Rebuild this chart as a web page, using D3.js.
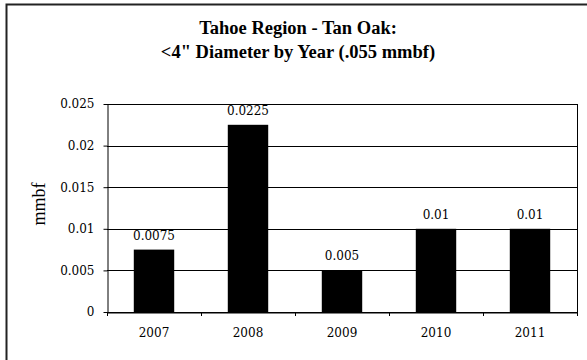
<!DOCTYPE html>
<html>
<head>
<meta charset="utf-8">
<script src="https://cdn.jsdelivr.net/npm/d3@7"></script>
<style>
  body { margin: 0; background: #fff; }
  svg text { font-family: 'Liberation Serif', 'Times New Roman', serif; fill: #000; }
  svg .num { font-family: 'DejaVu Serif', serif; font-size: 12px; }
</style>
</head>
<body>
<div id="chart"></div>
<script>
const years = ['2007', '2008', '2009', '2010', '2011']
const volumes = [0.0075, 0.0225, 0.005, 0.01, 0.01]
const valueLabels = ['0.0075', '0.0225', '0.005', '0.01', '0.01']
const yTicks = [0, 0.005, 0.01, 0.015, 0.02, 0.025]
const titleLines = ['Tahoe Region - Tan Oak:', '<4" Diameter by Year (.055 mmbf)']

const width = 587
const height = 360
const margin = { top: 104, right: 10, bottom: 48, left: 107 }

const svg = d3.select('#chart')
  .append('svg')
  .attr('width', width)
  .attr('height', height)

// outer chart border (right/bottom edges fall outside the picture)
svg.append('rect')
  .attr('x', 6.5)
  .attr('y', 4.5)
  .attr('width', 600)
  .attr('height', 400)
  .attr('fill', '#fff')
  .attr('stroke', '#222')
  .attr('stroke-width', 2)

svg.append('g')
  .selectAll('text')
  .data(titleLines)
  .join('text')
  .attr('x', 298)
  .attr('y', (d, i) => 34 + i * 23.5)
  .attr('text-anchor', 'middle')
  .style('font-weight', 'bold')
  .style('font-size', '18.5px')
  .text(d => d)

const x = d3.scaleBand()
  .domain(years)
  .range([margin.left, width - margin.right])
  .padding(0)

const y = d3.scaleLinear()
  .domain([0, 0.025])
  .range([height - margin.bottom, margin.top])

// gridlines
svg.append('g')
  .selectAll('line')
  .data(yTicks)
  .join('line')
  .attr('x1', margin.left)
  .attr('x2', width - margin.right)
  .attr('y1', d => Math.round(y(d)) + 0.5)
  .attr('y2', d => Math.round(y(d)) + 0.5)
  .attr('stroke', '#000')
  .attr('stroke-width', 1)

// right edge of plot area
svg.append('line')
  .attr('x1', width - margin.right + 0.5)
  .attr('x2', width - margin.right + 0.5)
  .attr('y1', y(0.025))
  .attr('y2', y(0))
  .attr('stroke', '#000')

const barW = x.bandwidth() * 0.43

svg.append('g')
  .selectAll('rect')
  .data(volumes)
  .join('rect')
  .attr('x', (d, i) => x(years[i]) + x.bandwidth() / 2 - barW / 2)
  .attr('y', d => y(d))
  .attr('width', barW)
  .attr('height', d => y(0) - y(d))
  .attr('fill', '#000')

svg.append('g')
  .selectAll('text')
  .data(volumes)
  .join('text')
  .classed('num', true)
  .attr('x', (d, i) => x(years[i]) + x.bandwidth() / 2)
  .attr('y', d => y(d) - 10)
  .attr('text-anchor', 'middle')
  .text((d, i) => valueLabels[i])

// y axis
const yAxis = svg.append('g')
  .attr('transform', `translate(${margin.left + 0.5},0)`)
  .call(d3.axisLeft(y).tickValues(yTicks).tickFormat(d => d === 0 ? '0' : String(+d.toFixed(3))).tickSize(4).tickSizeOuter(0))
yAxis.select('.domain').attr('stroke', '#000')
yAxis.selectAll('.tick line').attr('stroke', '#000')
yAxis.selectAll('.tick text')
  .classed('num', true)
  .attr('x', -13)
  .attr('font-family', null)
  .attr('font-size', null)

// x axis
const xAxis = svg.append('g')
  .attr('transform', `translate(0,${Math.round(y(0)) + 0.5})`)
  .call(d3.axisBottom(x).tickSize(0).tickSizeOuter(0))
xAxis.select('.domain').attr('stroke', '#000')
xAxis.selectAll('.tick text')
  .classed('num', true)
  .attr('y', 16)
  .attr('font-family', null)
  .attr('font-size', null)

// category boundary ticks
svg.append('g')
  .selectAll('line')
  .data(years.concat(['end']))
  .join('line')
  .attr('x1', (d, i) => Math.round(margin.left + i * x.step()) + 0.5)
  .attr('x2', (d, i) => Math.round(margin.left + i * x.step()) + 0.5)
  .attr('y1', y(0))
  .attr('y2', y(0) + 4)
  .attr('stroke', '#000')

svg.append('text')
  .attr('transform', `translate(45,204) rotate(-90)`)
  .attr('text-anchor', 'middle')
  .style('font-size', '18px')
  .text('mmbf')
</script>
</body>
</html>
